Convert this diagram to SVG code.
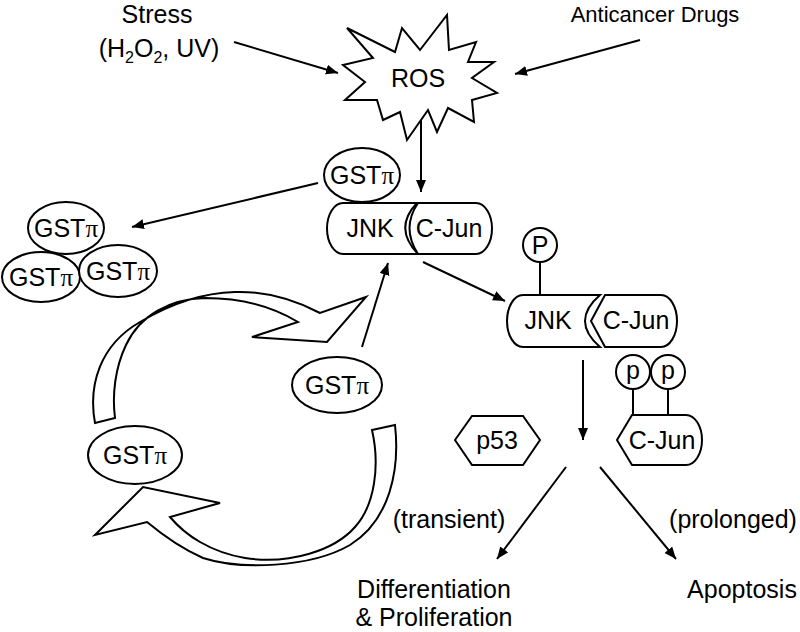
<svg xmlns="http://www.w3.org/2000/svg" width="800" height="632" viewBox="0 0 800 632">
<defs>
<marker id="ah" markerUnits="userSpaceOnUse" markerWidth="14" markerHeight="12" refX="12" refY="5" orient="auto">
<path d="M0,0 L12,5 L0,10 Z" fill="#000"/>
</marker>
<style>
text{font-family:"Liberation Sans",Arial,sans-serif;font-size:25px;fill:#000;text-anchor:middle}
.pi{font-family:"Liberation Serif","Times New Roman",serif}
.sh{fill:#fff;stroke:#000;stroke-width:2;stroke-linejoin:miter}
.ln{fill:none;stroke:#000;stroke-width:2}
.ar{fill:none;stroke:#000;stroke-width:2;marker-end:url(#ah)}
.sub{font-size:16px}
</style>
</defs>
<rect width="800" height="632" fill="#fff"/>

<g id="connectors">
<line class="ar" x1="234" y1="42" x2="338" y2="73"/>
<line class="ar" x1="640" y1="40" x2="515" y2="74"/>
<line class="ar" x1="421" y1="118" x2="421" y2="192"/>
<line class="ar" x1="318" y1="183" x2="132" y2="227"/>
<line class="ar" x1="423" y1="262" x2="505" y2="301"/>
<line class="ar" x1="362" y1="347" x2="388" y2="263"/>
<line class="ar" x1="583" y1="360" x2="583" y2="440"/>
<line class="ar" x1="566" y1="467" x2="497" y2="559"/>
<line class="ar" x1="600" y1="467" x2="676" y2="559"/>
<path id="cycle-upper" class="sh" d="M95,423 C88,385 100,345 140,322 C170,304 200,293 235,292 C265,291 295,300 320,313 L366,297 L327,342 L252,337 L298,322 C275,308 245,298 205,298 C170,299 140,315 126,345 C115,368 112,395 115,418 Z"/>
<path id="cycle-lower" class="sh" d="M372,430 L395,425 C400,470 390,520 350,545 C310,568 240,570 203,558 C185,550 165,537 147,522 L95,535 L143,487 L220,503 L170,517 C185,535 210,552 245,558 C290,565 335,550 355,527 C375,505 380,465 372,430 Z"/>
</g>

<g id="stress">
<text x="157" y="23">Stress</text>
<text x="159" y="57">(H<tspan class="sub" dy="6">2</tspan><tspan dy="-6">O</tspan><tspan class="sub" dy="6">2</tspan><tspan dy="-6">, UV)</tspan></text>
</g>
<g id="drugs"><text x="655" y="22" style="font-size:22px">Anticancer Drugs</text></g>

<g id="ros">
<polygon class="sh" points="347,28 395,52 402,28 420,50 447,15 449,50 476,42 468,62 494,62 472,78 497,93 472,100 474,122 448,108 437,132 428,110 407,140 400,112 383,120 377,100 345,100 365,82 343,65 373,58"/>
<text x="418" y="87">ROS</text>
</g>

<g id="gst-top">
<ellipse class="sh" cx="362" cy="175" rx="38" ry="27"/>
<text x="362" y="184">GST<tspan class="pi">π</tspan></text>
</g>

<g id="complex1">
<path class="sh" d="M417,203 L343,203 A16,25.5 0 0 0 343,254 L418,254 Q393,228 417,203 Z"/>
<path class="sh" d="M418,203 L476,203 A16,25.5 0 0 1 476,254 L418,254 Q401,228 418,203 Z"/>
<text x="370" y="237">JNK</text>
<text x="449" y="237">C-Jun</text>
</g>

<g id="gst-cluster">
<ellipse class="sh" cx="66" cy="228" rx="38" ry="26"/>
<text x="66" y="237">GST<tspan class="pi">π</tspan></text>
<ellipse class="sh" cx="41" cy="277" rx="39" ry="25"/>
<text x="41" y="286">GST<tspan class="pi">π</tspan></text>
<ellipse class="sh" cx="118" cy="271" rx="39" ry="26"/>
<text x="118" y="280">GST<tspan class="pi">π</tspan></text>
</g>

<g id="complex2">
<line class="ln" x1="540" y1="262" x2="540" y2="295"/>
<circle class="sh" cx="540" cy="245" r="17"/>
<text x="540" y="254">P</text>
<path class="sh" d="M600,295 L523,295 A16,26 0 0 0 523,347 L600,347 Q570,321 600,295 Z"/>
<path class="sh" d="M605,295 L661,295 A16,26 0 0 1 661,347 L605,347 L591,321 Z"/>
<text x="548" y="329">JNK</text>
<text x="636" y="329">C-Jun</text>
</g>

<g id="gst-right">
<ellipse class="sh" cx="337" cy="385" rx="45" ry="28"/>
<text x="337" y="394">GST<tspan class="pi">π</tspan></text>
</g>
<g id="gst-left">
<ellipse class="sh" cx="135" cy="455" rx="47" ry="29"/>
<text x="135" y="464">GST<tspan class="pi">π</tspan></text>
</g>

<g id="p53">
<polygon class="sh" points="455,440 472,416 523,416 540,440 523,465 472,465"/>
<text x="497" y="449">p53</text>
</g>

<g id="cjun-p">
<line class="ln" x1="633" y1="389" x2="633" y2="415"/>
<line class="ln" x1="668" y1="389" x2="668" y2="415"/>
<circle class="sh" cx="633" cy="372" r="17"/>
<circle class="sh" cx="668" cy="372" r="17"/>
<text x="633" y="379">p</text>
<text x="668" y="379">p</text>
<path class="sh" d="M632,415 L686,415 A16,25 0 0 1 686,465 L632,465 L617,440 Z"/>
<text x="662" y="449">C-Jun</text>
</g>

<g id="labels">
<text x="449" y="528">(transient)</text>
<text x="733" y="528">(prolonged)</text>
</g>
<g id="differentiation">
<text x="434" y="598">Differentiation</text>
<text x="434" y="626">&amp; Proliferation</text>
</g>
<g id="apoptosis"><text x="742" y="598">Apoptosis</text></g>
</svg>
